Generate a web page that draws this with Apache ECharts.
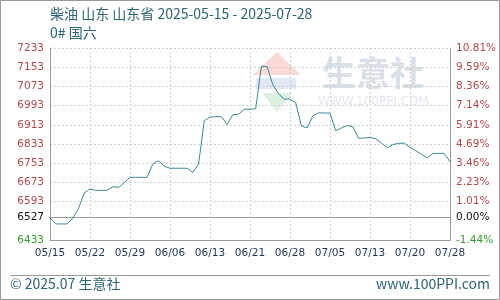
<!DOCTYPE html>
<html><head><meta charset="utf-8">
<script src="https://cdn.jsdelivr.net/npm/echarts@6/dist/echarts.min.js"></script>
<style>html,body{margin:0;padding:0;background:#fff}#c{width:500px;height:300px}</style>
</head><body><div id="c"></div>
<script>
const categories = [
'05/15','05/16','05/17','05/18','05/19','05/20','05/21',
'05/22','05/23','05/24','05/25','05/26','05/27','05/28',
'05/29','05/30','06/01','06/02','06/03','06/04','06/05',
'06/06','06/07','06/08','06/09','06/10','06/11','06/12',
'06/13','06/14','06/16','06/17','06/18','06/19','06/20',
'06/21','06/22','06/23','06/24','06/25','06/26','06/27',
'06/28','06/29','06/30','07/01','07/02','07/03','07/04',
'07/05','07/07','07/08','07/09','07/10','07/11','07/12',
'07/13','07/14','07/15','07/16','07/17','07/18','07/19',
'07/20','07/21','07/22','07/23','07/24','07/25','07/26',
'07/28'];
const prices = [
6527,6500,6500,6500,6525,6565,6630,
6645,6640,6640,6640,6655,6652,6672,
6694,6694,6694,6694,6750,6763,6740,
6732,6732,6732,6732,6715,6750,6930,
6945,6947,6947,6915,6955,6957,6978,
6978,6980,7158,7155,7080,7042,7020,
7020,7005,6908,6900,6950,6963,6962,
6962,6888,6900,6910,6905,6857,6858,
6860,6855,6838,6818,6830,6836,6836,
6820,6805,6790,6775,6793,6794,6794,
6759];
const baseValue = 6527;
const yMin = 6433, yMax = 7233, yStep = 80;
const leftTickLabels = ['6433','','6593','6673','6753','6833','6913','6993','7073','7153','7233'];
const rightTickLabels = ['-1.44%','','1.01%','2.23%','3.46%','4.69%','5.91%','7.14%','8.36%','9.59%','10.81%'];
const titleText = '柴油 山东 山东省 2025-05-15 - 2025-07-28';
const subTitleText = '0# 国六';

const chart = echarts.init(document.getElementById('c'), null, {renderer:'canvas'});
const red = '#b4494a', green = '#3a9a3a', black = '#111';
const gridColors = leftTickLabels.map((t,i)=> i===1 ? 'rgba(0,0,0,0)' : '#cfcfcf');
function idx(v){ return Math.round((v - yMin)/yStep); }
const labFont = {fontFamily:'DejaVu Sans', fontSize:10.5};
chart.setOption({
  animation:false,
  backgroundColor:'#fff',
  grid:{left:50,right:50,top:48,bottom:60},
  xAxis:{
    type:'category', data:categories, boundaryGap:false,
    axisLine:{lineStyle:{color:'#999'}},
    axisTick:{show:false},
    axisLabel:{interval:6, color:'#1d3557', margin:8, ...labFont, fontSize:10.5},
    splitLine:{show:true, interval:6, lineStyle:{type:[2,2], color:'#cfcfcf'}}
  },
  yAxis:[{
    type:'value', min:yMin, max:yMax, interval:yStep,
    axisLine:{show:true, lineStyle:{color:'#999'}},
    axisTick:{show:false},
    axisLabel:{margin:6, ...labFont,
      formatter:v=>{const i=idx(v); const t=leftTickLabels[i]; if(!t) return ''; return i===0?'{g|'+t+'}':'{r|'+t+'}';},
      rich:{r:{color:red,...labFont},g:{color:green,...labFont}}},
    splitLine:{show:true, lineStyle:{type:[2,2], color:gridColors}}
  },{
    type:'value', min:yMin, max:yMax, interval:yStep, position:'right',
    axisLine:{show:true, lineStyle:{color:'#999'}},
    axisTick:{show:false},
    axisLabel:{margin:6, ...labFont,
      formatter:v=>{const i=idx(v); const t=rightTickLabels[i]; if(!t) return ''; return i===0?'{g|'+t+'}':'{r|'+t+'}';},
      rich:{r:{color:red,...labFont},g:{color:green,...labFont}}},
    splitLine:{show:false}
  }],
  graphic:[
    {type:'rect', shape:{x:0.5,y:0.5,width:499,height:299}, style:{fill:'none',stroke:'#999',lineWidth:1}, z:-1},
    {type:'text', left:50, top:7, style:{text:titleText, fill:'#2e6378', font:'14px "Noto Sans CJK SC", sans-serif'}},
    {type:'text', left:50, top:26, style:{text:subTitleText, fill:'#2e6378', font:'14px "Noto Sans CJK SC", sans-serif'}},
    {type:'line', shape:{x1:10,y1:275.5,x2:490,y2:275.5}, style:{stroke:'#999',lineWidth:1}},
    {type:'text', left:10, top:277, style:{text:'© 2025.07 生意社', fill:'#2e6378', font:'14px "Noto Sans CJK SC", sans-serif'}},
    {type:'text', right:10, top:277, style:{text:'www.100PPI.com', fill:'#2e6378', font:'14px "Noto Sans CJK SC", sans-serif'}},
    {type:'polygon', shape:{points:[[277,52],[253,75],[301,75]]}, style:{fill:'rgba(230,120,110,0.28)'}, z:0},
    {type:'rect', shape:{x:256,y:78,width:40,height:11}, style:{fill:'rgba(120,150,200,0.22)'}, z:0},
    {type:'polygon', shape:{points:[[262,93],[292,93],[277,112]]}, style:{fill:'rgba(120,200,140,0.25)'}, z:0},
    {type:'text', left:322, top:56, style:{text:'生意社', fill:'rgba(150,165,190,0.35)', font:'bold 34px "Noto Sans CJK SC", sans-serif'}, z:0},
    {type:'text', left:318, top:96, style:{text:'WWW.100PPI.COM', fill:'rgba(170,180,195,0.35)', font:'12px "DejaVu Sans", sans-serif'}, z:0}
  ],
  series:[{
    type:'line', data:prices, symbol:'none', yAxisIndex:0,
    lineStyle:{color:'#3e8798', width:1}, z:5,
    markLine:{
      silent:true, symbol:'none', animation:false,
      lineStyle:{color:'#999', type:'solid', width:1},
      data:[
        {yAxis:baseValue, label:{show:true, position:'start', formatter:String(baseValue), color:black, distance:6, ...labFont}},
        {yAxis:baseValue, label:{show:true, position:'end', formatter:'0.00%', color:black, distance:6, ...labFont}}
      ]
    }
  }]
});
</script></body></html>
